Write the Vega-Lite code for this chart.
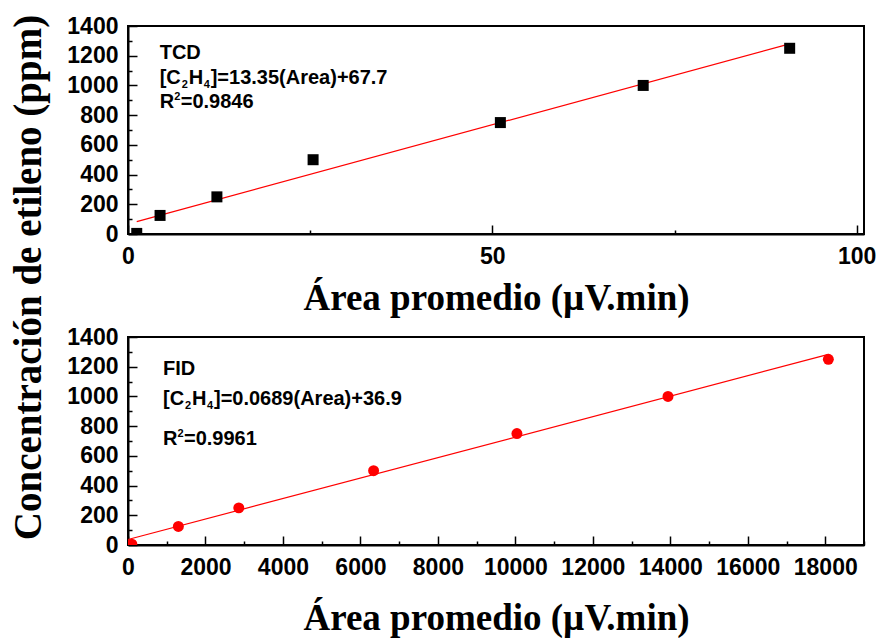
{
  "$schema": "https://vega.github.io/schema/vega-lite/v6.json",
  "background": "white",
  "padding": {"left": 7, "top": 13, "right": 0, "bottom": 5},
  "bounds": "flush",
  "spacing": 103,
  "config": {
    "view": {"stroke": "black", "strokeWidth": 2},
    "axis": {
      "labelFont": "Liberation Sans", "labelFontWeight": "bold", "labelFontSize": 23, "labelColor": "black",
      "domainColor": "black", "domainWidth": 2, "tickColor": "black", "tickWidth": 1.5, "grid": false,
      "titleFont": "Liberation Serif", "titleFontWeight": "bold", "titleColor": "black",
      "labelFlush": false, "labelOverlap": false
    }
  },
  "datasets": {
    "tcd": [{"area": 1.2, "conc": 4}, {"area": 4.4, "conc": 125}, {"area": 12.2, "conc": 250}, {"area": 25.4, "conc": 500}, {"area": 51.1, "conc": 750}, {"area": 70.7, "conc": 1000}, {"area": 90.8, "conc": 1250}],
    "tcd_fit": [{"area": 1.2, "conc": 83.7}, {"area": 90.8, "conc": 1279.9}],
    "fid": [{"area": 100, "conc": 6}, {"area": 1300, "conc": 125}, {"area": 2860, "conc": 250}, {"area": 6340, "conc": 500}, {"area": 10040, "conc": 750}, {"area": 13940, "conc": 1000}, {"area": 18080, "conc": 1250}],
    "fid_fit": [{"area": 0, "conc": 36.9}, {"area": 18080, "conc": 1282.6}]
  },
  "vconcat": [
    {
      "width": 736, "height": 208,
      "encoding": {
        "x": {"field": "area", "type": "quantitative", "scale": {"domain": [0, 101], "nice": false},
          "axis": {"title": "Área promedio (µV.min)", "titleFontSize": 37, "titleBaseline": "alphabetic", "titleY": 75,
            "labelFontSize": 23, "labelOverlap": false, "labelFlush": false, "format": "d",
            "values": [0, 25, 50, 75, 100], "labelExpr": "datum.value % 50 === 0 ? datum.label : ''",
            "tickSize": {"condition": {"test": "datum.value % 50 === 0", "value": -9}, "value": -4}, "labelPadding": 20}},
        "y": {"field": "conc", "type": "quantitative", "scale": {"domain": [0, 1400], "nice": false},
          "axis": {"title": "Concentración de etileno (ppm)", "titleFontSize": 39, "titleY": 251, "titleX": -80, "titleLimit": 700,
            "labelFontSize": 23, "labelOverlap": false, "labelFlush": false, "format": "d",
            "values": [0, 100, 200, 300, 400, 500, 600, 700, 800, 900, 1000, 1100, 1200, 1300, 1400],
            "labelExpr": "datum.value % 200 === 0 ? datum.label : ''",
            "tickSize": {"condition": {"test": "datum.value % 200 === 0", "value": -9}, "value": -4}, "labelPadding": 19}}
      },
      "layer": [
        {"data": {"name": "tcd_fit"}, "mark": {"type": "line", "color": "#ff0000", "strokeWidth": 1.2}},
        {"data": {"name": "tcd"}, "mark": {"type": "point", "shape": "square", "filled": true, "color": "black", "size": 121, "opacity": 1, "clip": true}},
        {"data": {"values": [{"area": 4.35, "conc": 1178, "label": "TCD"}, {"area": 4.35, "conc": 1008, "label": "[C"}, {"area": 4.35, "conc": 848, "label": "R"}]},
          "mark": {"type": "text", "font": "Liberation Sans", "fontWeight": "bold", "fontSize": 20, "align": "left", "baseline": "alphabetic", "color": "black"},
          "encoding": {"text": {"field": "label"}}},
        {"data": {"values": [{"area": 4.35, "conc": 1008, "label": "2"}]},
          "mark": {"type": "text", "font": "Liberation Sans", "fontWeight": "bold", "fontSize": 11, "align": "left", "baseline": "alphabetic", "color": "black", "dx": 22, "dy": 4},
          "encoding": {"text": {"field": "label"}}},
        {"data": {"values": [{"area": 4.35, "conc": 1008, "label": "H"}]},
          "mark": {"type": "text", "font": "Liberation Sans", "fontWeight": "bold", "fontSize": 20, "align": "left", "baseline": "alphabetic", "color": "black", "dx": 29},
          "encoding": {"text": {"field": "label"}}},
        {"data": {"values": [{"area": 4.35, "conc": 1008, "label": "4"}]},
          "mark": {"type": "text", "font": "Liberation Sans", "fontWeight": "bold", "fontSize": 11, "align": "left", "baseline": "alphabetic", "color": "black", "dx": 44, "dy": 4},
          "encoding": {"text": {"field": "label"}}},
        {"data": {"values": [{"area": 4.35, "conc": 1008, "label": "]=13.35(Area)+67.7"}]},
          "mark": {"type": "text", "font": "Liberation Sans", "fontWeight": "bold", "fontSize": 20, "align": "left", "baseline": "alphabetic", "color": "black", "dx": 51},
          "encoding": {"text": {"field": "label"}}},
        {"data": {"values": [{"area": 4.35, "conc": 848, "label": "2"}]},
          "mark": {"type": "text", "font": "Liberation Sans", "fontWeight": "bold", "fontSize": 11, "align": "left", "baseline": "alphabetic", "color": "black", "dx": 14.5, "dy": -8},
          "encoding": {"text": {"field": "label"}}},
        {"data": {"values": [{"area": 4.35, "conc": 848, "label": "=0.9846"}]},
          "mark": {"type": "text", "font": "Liberation Sans", "fontWeight": "bold", "fontSize": 20, "align": "left", "baseline": "alphabetic", "color": "black", "dx": 21},
          "encoding": {"text": {"field": "label"}}}
      ]
    },
    {
      "width": 736, "height": 208,
      "encoding": {
        "x": {"field": "area", "type": "quantitative", "scale": {"domain": [0, 19000], "nice": false},
          "axis": {"title": "Área promedio (µV.min)", "titleFontSize": 37, "titleBaseline": "alphabetic", "titleY": 84,
            "labelFontSize": 23, "labelOverlap": false, "labelFlush": false, "format": "d",
            "values": [0, 1000, 2000, 3000, 4000, 5000, 6000, 7000, 8000, 9000, 10000, 11000, 12000, 13000, 14000, 15000, 16000, 17000, 18000, 19000],
            "labelExpr": "datum.value % 2000 === 0 ? datum.label : ''",
            "tickSize": {"condition": {"test": "datum.value % 2000 === 0", "value": -9}, "value": -4}, "labelPadding": 20}},
        "y": {"field": "conc", "type": "quantitative", "scale": {"domain": [0, 1400], "nice": false},
          "axis": {"title": null,
            "labelFontSize": 23, "labelOverlap": false, "labelFlush": false, "format": "d",
            "values": [0, 100, 200, 300, 400, 500, 600, 700, 800, 900, 1000, 1100, 1200, 1300, 1400],
            "labelExpr": "datum.value % 200 === 0 ? datum.label : ''",
            "tickSize": {"condition": {"test": "datum.value % 200 === 0", "value": -9}, "value": -4}, "labelPadding": 19}}
      },
      "layer": [
        {"data": {"name": "fid_fit"}, "mark": {"type": "line", "color": "#ff0000", "strokeWidth": 1.2}},
        {"data": {"name": "fid"}, "mark": {"type": "point", "shape": "circle", "filled": true, "color": "#ff0000", "size": 120, "opacity": 1, "clip": true}},
        {"data": {"values": [{"area": 903, "conc": 1142, "label": "FID"}, {"area": 903, "conc": 939, "label": "[C"}, {"area": 903, "conc": 670, "label": "R"}]},
          "mark": {"type": "text", "font": "Liberation Sans", "fontWeight": "bold", "fontSize": 20, "align": "left", "baseline": "alphabetic", "color": "black"},
          "encoding": {"text": {"field": "label"}}},
        {"data": {"values": [{"area": 903, "conc": 939, "label": "2"}]},
          "mark": {"type": "text", "font": "Liberation Sans", "fontWeight": "bold", "fontSize": 11, "align": "left", "baseline": "alphabetic", "color": "black", "dx": 22, "dy": 4},
          "encoding": {"text": {"field": "label"}}},
        {"data": {"values": [{"area": 903, "conc": 939, "label": "H"}]},
          "mark": {"type": "text", "font": "Liberation Sans", "fontWeight": "bold", "fontSize": 20, "align": "left", "baseline": "alphabetic", "color": "black", "dx": 29},
          "encoding": {"text": {"field": "label"}}},
        {"data": {"values": [{"area": 903, "conc": 939, "label": "4"}]},
          "mark": {"type": "text", "font": "Liberation Sans", "fontWeight": "bold", "fontSize": 11, "align": "left", "baseline": "alphabetic", "color": "black", "dx": 44, "dy": 4},
          "encoding": {"text": {"field": "label"}}},
        {"data": {"values": [{"area": 903, "conc": 939, "label": "]=0.0689(Area)+36.9"}]},
          "mark": {"type": "text", "font": "Liberation Sans", "fontWeight": "bold", "fontSize": 20, "align": "left", "baseline": "alphabetic", "color": "black", "dx": 51},
          "encoding": {"text": {"field": "label"}}},
        {"data": {"values": [{"area": 903, "conc": 670, "label": "2"}]},
          "mark": {"type": "text", "font": "Liberation Sans", "fontWeight": "bold", "fontSize": 11, "align": "left", "baseline": "alphabetic", "color": "black", "dx": 14.5, "dy": -8},
          "encoding": {"text": {"field": "label"}}},
        {"data": {"values": [{"area": 903, "conc": 670, "label": "=0.9961"}]},
          "mark": {"type": "text", "font": "Liberation Sans", "fontWeight": "bold", "fontSize": 20, "align": "left", "baseline": "alphabetic", "color": "black", "dx": 21},
          "encoding": {"text": {"field": "label"}}}
      ]
    }
  ]
}
